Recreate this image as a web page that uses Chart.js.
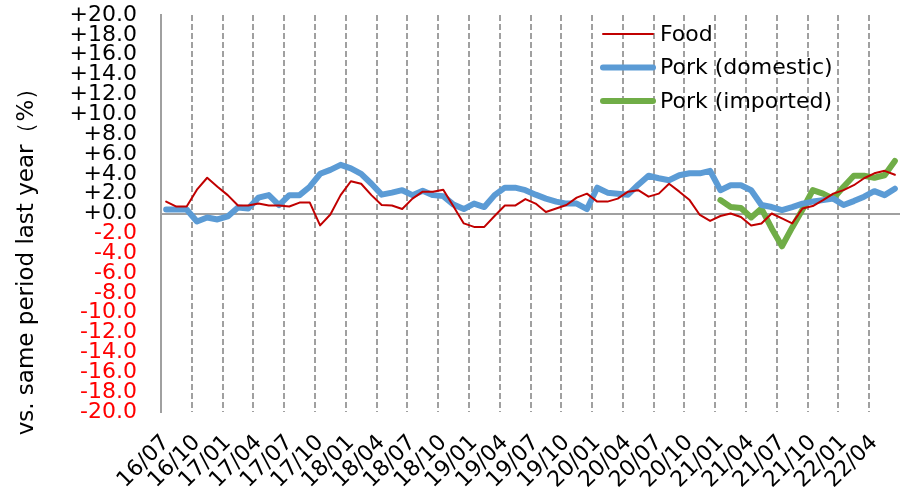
<!DOCTYPE html>
<html>
<head>
<meta charset="utf-8">
<script src="https://cdn.jsdelivr.net/npm/chart.js@4/dist/chart.umd.min.js"></script>
<style>
  body { margin: 0; background: #fff; }
  #wrap { width: 905px; height: 498px; }
</style>
</head>
<body>
<div id="wrap"><canvas id="lineChart"></canvas></div>
<script>
// month labels, 16/07 .. 22/06
var months = [
    '16/07','16/08','16/09','16/10','16/11','16/12',
    '17/01','17/02','17/03','17/04','17/05','17/06','17/07','17/08','17/09','17/10','17/11','17/12',
    '18/01','18/02','18/03','18/04','18/05','18/06','18/07','18/08','18/09','18/10','18/11','18/12',
    '19/01','19/02','19/03','19/04','19/05','19/06','19/07','19/08','19/09','19/10','19/11','19/12',
    '20/01','20/02','20/03','20/04','20/05','20/06','20/07','20/08','20/09','20/10','20/11','20/12',
    '21/01','21/02','21/03','21/04','21/05','21/06','21/07','21/08','21/09','21/10','21/11','21/12',
    '22/01','22/02','22/03','22/04','22/05','22/06'
];

var food = [
    1.2, 0.7, 0.7, 2.4, 3.6, 2.7, 1.85, 0.8, 0.8, 1.0, 0.8, 0.8,
    0.7, 1.1, 1.1, -1.2, -0.1, 1.85, 3.25, 3.0, 1.85, 0.85, 0.8, 0.45,
    1.5, 2.2, 2.2, 2.4, 0.7, -1.0, -1.35, -1.35, -0.25, 0.8, 0.8, 1.45,
    1.0, 0.15, 0.5, 0.85, 1.6, 2.0, 1.2, 1.2, 1.5, 2.2, 2.35, 1.7,
    2.0, 3.0, 2.2, 1.35, -0.15, -0.75, -0.25, 0.0, -0.35, -1.2, -1.0, 0.0,
    -0.5, -1.0, 0.5, 0.75, 1.35, 2.0, 2.35, 2.85, 3.55, 4.05, 4.3, 3.9
];

var porkDomestic = [
    0.4, 0.4, 0.4, -0.8, -0.4, -0.6, -0.3, 0.6, 0.5, 1.6, 1.85, 0.85,
    1.85, 1.85, 2.7, 4.0, 4.4, 4.9, 4.55, 4.0, 3.0, 1.9, 2.1, 2.35,
    1.85, 2.3, 1.85, 1.75, 0.9, 0.45, 1.0, 0.65, 1.85, 2.6, 2.6, 2.35,
    1.9, 1.5, 1.2, 1.0, 1.0, 0.45, 2.6, 2.1, 2.0, 1.9, 2.9, 3.8,
    3.55, 3.35, 3.85, 4.05, 4.05, 4.3, 2.35, 2.85, 2.85, 2.35, 0.85, 0.65,
    0.35, 0.65, 1.0, 1.2, 1.35, 1.5, 0.85, 1.25, 1.7, 2.25, 1.85, 2.5
];

// imported pork only from 21/01
var porkImported = [
    null, null, null, null, null, null, null, null, null, null, null, null,
    null, null, null, null, null, null, null, null, null, null, null, null,
    null, null, null, null, null, null, null, null, null, null, null, null,
    null, null, null, null, null, null, null, null, null, null, null, null,
    null, null, null, null, null, null, 1.35, 0.65, 0.55, -0.4, 0.5, -1.5,
    -3.3, -1.4, 0.4, 2.35, 2.0, 1.5, 2.7, 3.8, 3.8, 3.6, 3.85, 5.3
];

var seriesNames = ['Food', 'Pork (domestic)', 'Pork (imported)'];
var yTitle = 'vs. same period last year\uFF08%\uFF09';

var FONT = '"DejaVu Sans", Verdana, sans-serif';

// legend drawn inside the plot, top right
var legendPlugin = {
    id: 'inLegend',
    afterDraw: function(chart) {
        var ctx = chart.ctx;
        ctx.save();
        chart.data.datasets.forEach(function(ds, i) {
            var y = 34 + i * 33.5;
            ctx.strokeStyle = ds.borderColor;
            ctx.lineWidth = ds.borderWidth;
            ctx.lineCap = 'round';
            ctx.beginPath();
            ctx.moveTo(603, y);
            ctx.lineTo(653, y);
            ctx.stroke();
            ctx.fillStyle = '#000';
            ctx.font = '22px ' + FONT;
            ctx.textBaseline = 'middle';
            ctx.fillText(ds.label, 660, y + 1);
        });
        ctx.restore();
    }
};

// y axis title, drawn by hand so it can sit lower than centre
var yTitlePlugin = {
    id: 'yTitle',
    afterDraw: function(chart) {
        var ctx = chart.ctx;
        ctx.save();
        ctx.translate(27, 256);
        ctx.rotate(-Math.PI / 2);
        ctx.font = '23px ' + FONT;
        ctx.fillStyle = '#000';
        ctx.textAlign = 'center';
        ctx.textBaseline = 'middle';
        ctx.fillText(yTitle, 0, 0);
        ctx.restore();
    }
};

var ctxLine = document.getElementById('lineChart').getContext('2d');
var myLineChart = new Chart(ctxLine, {
    type: 'line',
    data: {
        labels: months,
        datasets: [{
            label: seriesNames[0],
            data: food,
            borderColor: '#C00000',
            borderWidth: 2,
            pointRadius: 0,
            tension: 0,
            borderJoinStyle: 'round',
            borderCapStyle: 'round'
        }, {
            label: seriesNames[1],
            data: porkDomestic,
            borderColor: '#5B9BD5',
            borderWidth: 6,
            pointRadius: 0,
            tension: 0,
            borderJoinStyle: 'round',
            borderCapStyle: 'round'
        }, {
            label: seriesNames[2],
            data: porkImported,
            borderColor: '#70AD47',
            borderWidth: 6,
            pointRadius: 0,
            tension: 0,
            borderJoinStyle: 'round',
            borderCapStyle: 'round'
        }]
    },
    options: {
        responsive: true,
        maintainAspectRatio: false,
        animation: false,
        layout: { padding: { left: 0, top: 15, right: 5, bottom: 0 } },
        plugins: {
            legend: { display: false },
            tooltip: { enabled: false }
        },
        scales: {
            x: {
                offset: true,
                grid: {
                    offset: true,
                    drawTicks: false,
                    lineWidth: 2,
                    color: function(c) {
                        return (c.index % 3 === 0 && c.index > 0) ? '#A0A0A0' : 'rgba(0,0,0,0)';
                    }
                },
                border: { display: false, dash: [6, 3] },
                ticks: {
                    autoSkip: false,
                    minRotation: 45,
                    maxRotation: 45,
                    padding: 18,
                    color: '#000',
                    font: { family: FONT, size: 22 },
                    callback: function(val, i) {
                        return i % 3 === 0 ? this.getLabelForValue(val) : '';
                    }
                },
                afterFit: function(scale) {
                    scale.height = 86;
                    scale.paddingLeft = 0;
                    scale.paddingRight = 0;
                }
            },
            y: {
                min: -20,
                max: 20,
                grid: {
                    drawTicks: false,
                    lineWidth: 2,
                    color: function(c) {
                        return (c.tick && c.tick.value === 0) ? '#A0A0A0' : 'rgba(0,0,0,0)';
                    }
                },
                border: { display: true, color: '#A0A0A0', width: 2 },
                ticks: {
                    stepSize: 2,
                    autoSkip: false,
                    padding: 24,
                    font: { family: FONT, size: 22 },
                    color: function(c) {
                        return c.tick.value < 0 ? '#FF0000' : '#000';
                    },
                    callback: function(v) {
                        return (v >= 0 ? '+' : '') + Number(v).toFixed(1);
                    }
                },
                afterFit: function(scale) {
                    scale.width = 161;
                    scale.paddingTop = 0;
                    scale.paddingBottom = 0;
                }
            }
        }
    },
    plugins: [legendPlugin, yTitlePlugin]
});
</script>
</body>
</html>
